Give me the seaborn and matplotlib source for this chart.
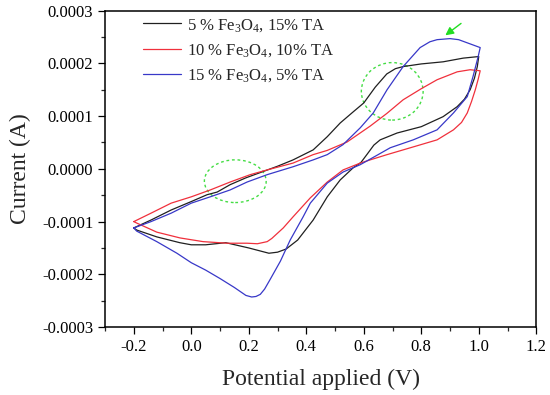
import numpy as np
import pandas as pd
import seaborn as sns
import matplotlib.pyplot as plt
from matplotlib.patches import Ellipse
from matplotlib.ticker import MultipleLocator, FuncFormatter

# CV loops: forward (upper) branch then reverse (lower) branch
# potentials in V, currents in units of 1e-4 A
e_black = [-0.20, -0.14, -0.07, 0.00, 0.055, 0.09, 0.135, 0.19, 0.24, 0.30, 0.354, 0.424,
           0.473, 0.518, 0.563, 0.60, 0.64, 0.68, 0.71, 0.737, 0.80, 0.876, 0.946, 1.00,
           0.995, 0.985, 0.97, 0.95, 0.925, 0.876, 0.80, 0.716, 0.657, 0.635, 0.612, 0.59,
           0.563, 0.518, 0.473, 0.424, 0.37, 0.33, 0.30, 0.27, 0.20, 0.12, 0.05, 0.00,
           -0.04, -0.12, -0.19, -0.20]
i_black = [-1.12, -0.97, -0.78, -0.62, -0.49, -0.44, -0.30, -0.17, -0.07, 0.05, 0.17, 0.36,
           0.61, 0.87, 1.08, 1.25, 1.55, 1.80, 1.90, 1.94, 1.99, 2.03, 2.10, 2.13,
           1.94, 1.72, 1.50, 1.32, 1.18, 0.99, 0.80, 0.68, 0.55, 0.45, 0.28, 0.12,
           0.02, -0.21, -0.53, -0.97, -1.35, -1.52, -1.58, -1.60, -1.50, -1.40, -1.44, -1.44,
           -1.40, -1.29, -1.16, -1.12]

e_red = [-0.20, -0.14, -0.07, 0.00, 0.066, 0.135, 0.205, 0.264, 0.354, 0.424, 0.473, 0.542,
         0.622, 0.68, 0.737, 0.80, 0.855, 0.925, 0.97, 1.005,
         0.998, 0.988, 0.975, 0.96, 0.94, 0.912, 0.855, 0.762, 0.681, 0.622, 0.588, 0.528,
         0.473, 0.414, 0.354, 0.32, 0.30, 0.28, 0.264, 0.23, 0.194, 0.125, 0.041, -0.039,
         -0.12, -0.189, -0.20]
i_red = [-1.00, -0.84, -0.65, -0.53, -0.40, -0.25, -0.11, -0.02, 0.11, 0.27, 0.35, 0.51,
         0.81, 1.05, 1.31, 1.52, 1.69, 1.84, 1.88, 1.86,
         1.70, 1.50, 1.28, 1.06, 0.88, 0.74, 0.55, 0.40, 0.27, 0.17, 0.11, -0.02,
         -0.25, -0.55, -0.91, -1.12, -1.22, -1.32, -1.38, -1.42, -1.41, -1.41, -1.38, -1.31,
         -1.20, -1.03, -1.00]

e_blue = [-0.20, -0.14, -0.07, 0.00, 0.066, 0.135, 0.194, 0.264, 0.354, 0.424, 0.473, 0.528,
          0.588, 0.633, 0.681, 0.737, 0.796, 0.83, 0.855, 0.90, 0.93, 0.96, 1.005,
          0.998, 0.98, 0.96, 0.912, 0.855, 0.772, 0.692, 0.65, 0.588, 0.528, 0.473,
          0.414, 0.389, 0.344, 0.31, 0.274, 0.255, 0.24, 0.225, 0.21, 0.19, 0.15, 0.10,
          0.05, 0.00, -0.05, -0.12, -0.19, -0.20]
i_blue = [-1.12, -1.00, -0.84, -0.65, -0.53, -0.40, -0.25, -0.11, 0.04, 0.17, 0.27, 0.46,
          0.78, 1.06, 1.50, 1.94, 2.30, 2.41, 2.45, 2.47, 2.45, 2.39, 2.30,
          2.13, 1.75, 1.37, 1.06, 0.74, 0.55, 0.40, 0.27, 0.08, -0.06, -0.27,
          -0.65, -0.91, -1.35, -1.75, -2.10, -2.28, -2.38, -2.42, -2.43, -2.40, -2.25, -2.08,
          -1.92, -1.78, -1.60, -1.38, -1.18, -1.12]

labels = [r'5 % Fe$_3$O$_4$, 15% TA', r'10 % Fe$_3$O$_4$, 10% TA', r'15 % Fe$_3$O$_4$, 5% TA']
colors = ['#202020', '#f0303c', '#3838c8']

frames = []
for lab, e, i in zip(labels, [e_black, e_red, e_blue], [i_black, i_red, i_blue]):
    frames.append(pd.DataFrame({'E': e, 'I': np.array(i) * 1e-4, 'sample': lab}))
df = pd.concat(frames, ignore_index=True)

sns.set_style('ticks')
plt.rcParams['font.family'] = ['Liberation Serif', 'DejaVu Serif']
plt.rcParams['mathtext.fontset'] = 'custom'
plt.rcParams['mathtext.rm'] = 'Liberation Serif'
plt.rcParams['mathtext.it'] = 'Liberation Serif:italic'

fig = plt.figure(figsize=(5.5, 3.95), dpi=100)
ax = fig.add_axes([0.191, 0.172, 0.784, 0.801])

sns.lineplot(data=df, x='E', y='I', hue='sample', palette=colors, sort=False,
             estimator=None, linewidth=0.9, ax=ax)

# green dashed circles and arrow
for cx, cy, w, h in [(0.153, -0.234e-4, 0.215, 0.81e-4), (0.699, 1.47e-4, 0.215, 1.09e-4)]:
    ax.add_patch(Ellipse((cx, cy), w, h, fill=False, edgecolor='#44dd44',
                         linestyle=(0, (2, 2)), linewidth=1.0))
ax.annotate('', xy=(0.876, 2.50e-4), xytext=(0.946, 2.79e-4),
            arrowprops=dict(arrowstyle='-|>', color='#22dd22', lw=1.0, mutation_scale=12))

ax.set_xlim(-0.3, 1.2)
ax.set_ylim(-0.0003, 0.0003)
ax.xaxis.set_major_locator(MultipleLocator(0.2))
ax.xaxis.set_minor_locator(MultipleLocator(0.1))
ax.yaxis.set_major_locator(MultipleLocator(0.0001))
ax.yaxis.set_minor_locator(MultipleLocator(0.00005))
ax.xaxis.set_major_formatter(FuncFormatter(lambda v, p: f'{0.0 if abs(v) < 1e-9 else v:.1f}'))
ax.yaxis.set_major_formatter(FuncFormatter(lambda v, p: f'{0.0 if abs(v) < 1e-12 else v:.4f}'))
ax.tick_params(which='major', direction='out', length=5, width=0.9, labelsize=12, colors='black')
ax.tick_params(which='minor', direction='out', length=3, width=0.9)
for s in ax.spines.values():
    s.set_linewidth(1.1)
    s.set_color('black')

ax.set_xlabel('Potential applied (V)', fontsize=17, labelpad=10)
ax.set_ylabel('Current (A)', fontsize=17, labelpad=8)

handles, labs = ax.get_legend_handles_labels()
ax.legend(handles, labs, loc='upper left', bbox_to_anchor=(0.065, 1.012), frameon=False,
          fontsize=12, handlelength=2.3, handletextpad=0.35, labelspacing=0.5,
          borderaxespad=0.2)

fig.savefig('out.png', dpi=100)
